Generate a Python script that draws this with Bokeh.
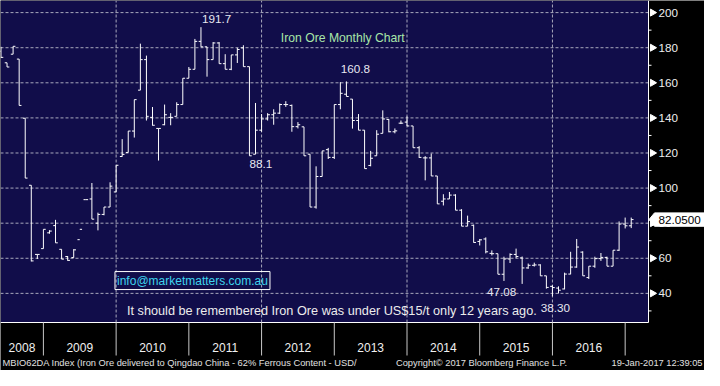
import numpy as np
import pandas as pd
from bokeh.plotting import figure
from bokeh.models import Range1d, BoxAnnotation, ColumnDataSource
from bokeh.core.properties import value
from bokeh.embed import file_html
from bokeh.resources import INLINE

nan = float("nan")

# Monthly OHLC, May 2008 .. Jan 2017 (USD/t)
opens = [178.0, 171.4, 176.3, 173.5, 139.8, 101.6, 62.2, 65.5,
         74.5, 78.6, 65.1, 61.0, 60.4, 70.6, 93.4, 93.8, 80.0, 85.0, 89.2, 97.8,
         118.0, 120.3, 132.5, 155.8, 173.2, 140.3, 134.0, 136.1, 140.3, 140.9, 147.6, 162.6,
         167.7, 183.6, 180.5, 173.2, 182.7, 170.9, 167.7, 175.9, 179.9, 169.2, 119.3, 133.0,
         139.4, 141.8, 142.7, 147.6, 147.1, 135.0, 134.9, 119.3, 89.2, 106.6, 121.9, 117.5,
         147.6, 153.5, 150.7, 138.5, 133.0, 112.9, 118.4, 131.2, 139.1, 132.1, 137.0, 137.6,
         135.4, 123.0, 117.2, 117.2, 106.9, 92.5, 93.8, 96.0, 87.4, 78.3, 78.8, 69.6,
         71.0, 62.8, 62.6, 50.9, 59.6, 62.2, 60.2, 54.5, 56.0, 56.2, 50.0, 44.0,
         43.0, 42.5, 51.0, 55.0, 63.5, 49.0, 55.5, 59.8, 60.5, 55.5, 64.6, 79.5,
         78.5]
highs = [180.5, 171.4, 180.8, 173.5, 139.8, 101.6, 62.2, 76.5,
         76.0, 81.9, 65.1, 61.3, 65.2, nan, nan, 102.9, 86.0, 89.2, 103.3, 113.0,
         127.9, 132.5, 150.4, 182.3, 175.5, 146.2, 134.0, 147.6, 142.7, 148.9, 162.6, 169.0,
         185.0, 191.7, 180.5, 183.2, 183.2, 176.3, 175.9, 179.9, 181.4, 169.2, 148.5, 142.2,
         142.7, 144.9, 148.2, 149.5, 147.6, 137.6, 134.9, 119.3, 112.4, 121.2, 122.9, 147.6,
         160.4, 160.8, 150.7, 142.2, 133.0, 121.2, 133.0, 144.3, 139.4, 134.0, 138.5, 140.8,
         135.4, 123.9, 118.2, 119.7, 106.9, 96.5, 97.8, 96.5, 88.0, 84.3, 79.2, 71.0,
         71.9, 64.5, 62.6, 60.9, 62.8, 65.5, 61.0, 57.0, 57.5, 56.6, 50.0, 44.6,
         44.0, 51.8, 63.7, 71.0, 64.0, 55.5, 60.9, 63.0, 60.9, 64.6, 81.0, 83.2,
         83.2]
lows = [174.1, 169.0, 176.3, 147.1, 105.7, 58.2, 59.6, 65.5,
        74.0, 68.8, 59.5, 58.6, 60.4, nan, nan, 82.3, 75.9, 84.5, 89.2, 97.8,
        117.9, 120.3, 128.8, 155.8, 138.5, 135.6, 115.7, 135.8, 135.8, 140.9, 147.6, 162.6,
        167.7, 180.5, 163.5, 173.2, 170.9, 167.7, 167.2, 171.3, 169.2, 118.4, 119.3, 132.1,
        138.5, 136.1, 142.2, 146.3, 132.1, 134.0, 118.4, 89.2, 88.3, 106.6, 116.6, 116.6,
        144.9, 152.2, 133.9, 133.0, 111.1, 112.4, 118.4, 131.2, 131.8, 131.2, 136.5, 135.4,
        123.0, 117.2, 104.4, 106.9, 91.0, 90.1, 93.8, 87.4, 78.3, 78.3, 68.9, 67.3,
        62.8, 61.6, 50.9, 47.08, 57.3, 60.0, 45.4, 54.0, 55.3, 50.0, 42.7, 38.3,
        40.0, 42.3, 50.9, 54.6, 50.0, 48.2, 54.6, 58.5, 55.5, 55.5, 64.2, 77.0,
        77.2]
closes = [174.5, 169.0, 180.8, 147.1, 105.7, 58.5, 62.2, 76.5,
          75.5, 68.8, 59.5, 58.8, 64.8, 76.5, 93.4, 82.3, 85.0, 89.2, 101.1, 113.0,
          119.2, 132.5, 150.4, 173.2, 140.9, 135.8, 134.0, 141.8, 140.3, 147.6, 162.6, 167.7,
          183.6, 180.5, 173.2, 182.7, 170.9, 167.7, 175.9, 179.0, 169.2, 118.4, 133.0, 139.4,
          141.8, 142.7, 147.6, 147.6, 135.0, 136.1, 118.4, 89.2, 106.6, 121.2, 117.5, 147.6,
          154.0, 152.2, 138.5, 133.0, 111.1, 117.0, 130.7, 139.4, 132.1, 132.6, 137.0, 135.4,
          123.0, 117.5, 117.2, 106.9, 91.0, 93.8, 96.0, 87.4, 78.3, 80.9, 69.0, 70.5,
          63.7, 62.6, 50.9, 59.6, 62.2, 61.0, 54.5, 56.0, 56.2, 50.0, 43.4, 43.3,
          41.8, 51.0, 55.0, 66.4, 50.0, 55.5, 59.8, 60.5, 55.5, 64.6, 79.5, 78.5,
          82.05]

months = pd.period_range("2008-05", periods=len(opens), freq="M")
years = [2008, 2009, 2010, 2011, 2012, 2013, 2014, 2015, 2016]
y_ticks = [40, 60, 80, 100, 120, 140, 160, 180, 200]
y_minor = [30, 50, 70, 90, 110, 130, 150, 170, 190]
grid_years = [2010, 2012, 2014, 2016]
last_price = "82.0500"

NAVY = "#110d4a"
FONT = "Liberation Sans"
W, H = 704, 370            # canvas
CW, CH = 648.0, 322.0      # chart (navy) area in px

# chart data window
X0, XA = -0.08, 106.85     # months (0 = May 2008); XA = right axis position
Y0, YT = 23.4, 206.9       # USD/t
PX = CW / (XA - X0)        # px per month
PY = CH / (YT - Y0)        # px per USD
X1 = X0 + W / PX
YB = YT - H / PY

def dx(px):
    return px / PX

def dy(px):
    return px / PY

k = np.arange(len(months))
dec_idx = [int(i) for i, m in zip(k, months) if m.month == 12]  # year boundaries

p = figure(width=W, height=H, output_backend="svg", toolbar_location=None,
           x_range=Range1d(X0, X1), y_range=Range1d(YB, YT),
           x_axis_location=None, y_axis_location=None, min_border=0,
           background_fill_color="black", border_fill_color="black", outline_line_color=None)
p.grid.visible = False

# navy chart area
p.add_layout(BoxAnnotation(left=X0, right=XA, bottom=Y0, top=YT, fill_color=NAVY,
                           fill_alpha=1, line_color=None, level="underlay"))

# grid lines
grid_pos = [dec_idx[years.index(y) - 1] for y in grid_years]
GRID = "#a8a8bc"
p.segment(x0=X0, y0=y_ticks, x1=XA, y1=y_ticks, line_color=GRID, line_dash="3 2", line_width=1)
p.segment(x0=grid_pos, y0=Y0, x1=grid_pos, y1=YT, line_color=GRID, line_dash="3 2", line_width=1)

# OHLC bars
w = 0.38
src = ColumnDataSource(dict(t=k, tl=k - w, tr=k + w, o=opens, h=highs, l=lows, c=closes))
p.segment("t", "l", "t", "h", source=src, line_color="white", line_width=1)
p.segment("tl", "o", "t", "o", source=src, line_color="white", line_width=1)
p.segment("t", "c", "tr", "c", source=src, line_color="white", line_width=1)

# axis lines
p.segment(x0=[XA], y0=[Y0], x1=[XA], y1=[YT], line_color="white", line_width=1)
p.segment(x0=[X0], y0=[Y0], x1=[XA], y1=[Y0], line_color="white", line_width=1)

# right axis ticks and labels
p.scatter(x=[XA + dx(4)] * len(y_ticks), y=y_ticks, marker="triangle", angle=-np.pi / 2,
          size=7, fill_color="white", line_color="white")
p.segment(x0=XA, y0=y_minor, x1=XA + dx(3), y1=y_minor, line_color="white", line_width=1)
p.text(x=[XA + dx(10)] * len(y_ticks), y=y_ticks, text=[str(t) for t in y_ticks],
       text_color="#eeeeee", text_font=value(FONT), text_font_size=value("11.7px"),
       text_align="left", text_baseline="middle")

# year separators and labels
p.segment(x0=dec_idx, y0=Y0, x1=dec_idx, y1=Y0 - dy(33), line_color="#c8c8c8", line_width=1)
centers = [(X0 + dec_idx[0]) / 2] + [(dec_idx[i - 1] + dec_idx[i]) / 2 for i in range(1, len(years))]
p.text(x=centers, y=[Y0 - dy(25)] * len(years), text=[str(y) for y in years],
       text_color="#f0f0f0", text_font=value(FONT), text_font_size=value("12px"),
       text_align="center", text_baseline="middle")

def lab(x, y, text, color="#e8e8f0", size="11.7px", align="center"):
    p.text(x=[x], y=[y], text=[text], text_color=color, text_font=value(FONT),
           text_font_size=value(size), text_align=align, text_baseline="middle")

# annotations
lab(35.6, 196.6, "191.7")
lab(58.5, 167.6, "160.8")
lab(42.9, 113.6, "88.1")
lab(82.6, 41.0, "47.08")
lab(91.5, 31.7, "38.30")
lab(56.4, 185.6, "Iron Ore Monthly Chart", color="#a8e6a8", size="12.2px")
bx, by = 31.6, 47.3
p.rect(x=[bx], y=[by], width=dx(155), height=dy(18), fill_color=None, line_color="white",
       line_width=1)
lab(bx, by, "info@marketmatters.com.au", color="#3fd4ee", size="12px")
lab(54.6, 30.0, "It should be remembered Iron Ore was under US$15/t only 12 years ago.",
    color="#ececec", size="12.7px")

# footer
fy = YT - dy(362)
lab(X0 + dx(2), fy, "MBIO62DA Index (Iron Ore delivered to Qingdao China - 62% Ferrous Content - USD/",
    color="#e0e0e0", size="9.3px", align="left")
lab(X0 + dx(481), fy, "Copyright\u00a9 2017 Bloomberg Finance L.P.", color="#e0e0e0", size="9.3px")
lab(X0 + dx(702), fy, "19-Jan-2017 12:39:05", color="#e0e0e0", size="9.3px", align="right")

# last price tag
lp = closes[-1]
hh = dy(6.7)
p.patch(x=[XA + dx(0.5), XA + dx(6), X1, X1, XA + dx(6)],
        y=[lp, lp + hh, lp + hh, lp - hh, lp - hh], fill_color="white", line_color="white")
lab(XA + dx(10), lp, last_price, color="black", size="11.7px", align="left")

open("out.html", "w").write(file_html(p, INLINE))
